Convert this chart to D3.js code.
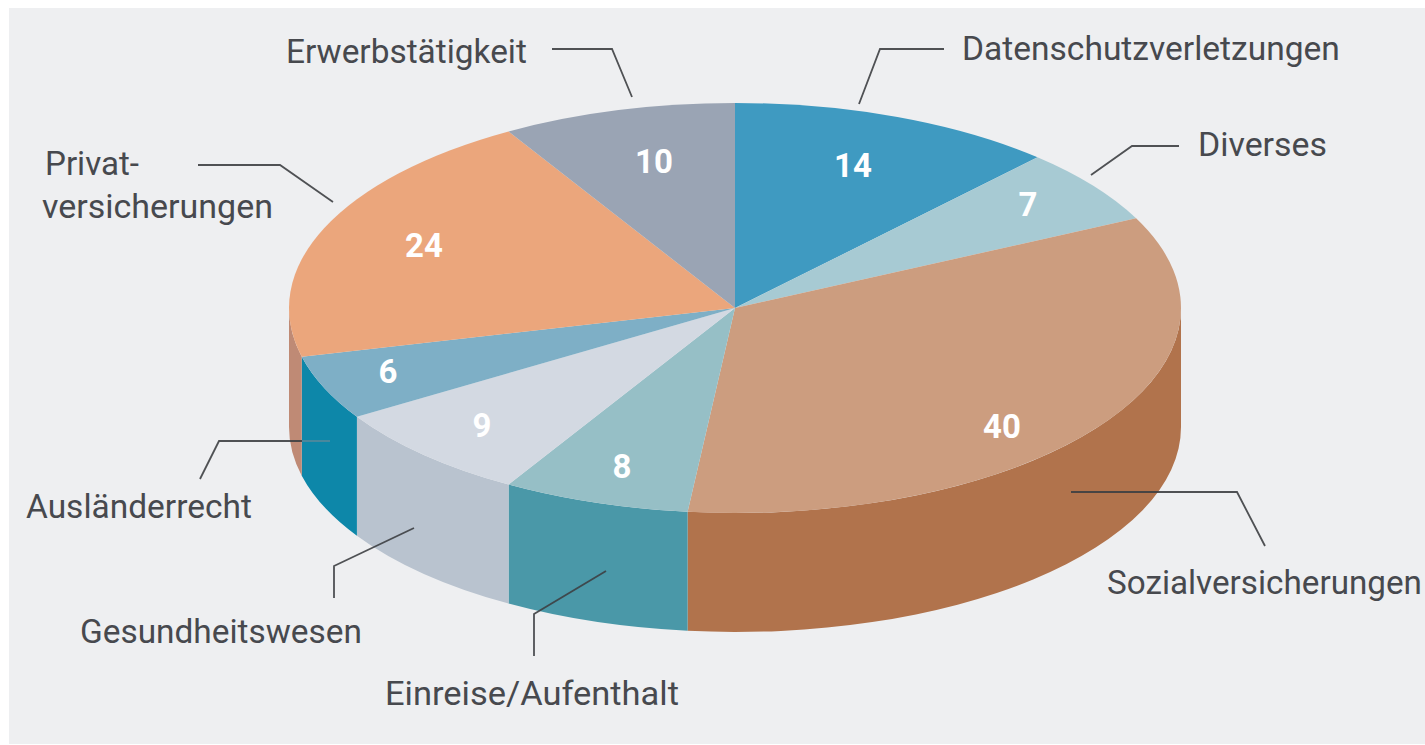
<!DOCTYPE html>
<html>
<head>
<meta charset="utf-8">
<script src="https://cdnjs.cloudflare.com/ajax/libs/d3/7.8.5/d3.min.js"></script>
<style>
  html, body { margin: 0; padding: 0; background: #fff; }
  svg { display: block; }
</style>
</head>
<body>
<div id="chart"></div>
<script>
// chart values, clockwise from 12 o'clock
var categories = ["Datenschutzverletzungen", "Diverses", "Sozialversicherungen", "Einreise/Aufenthalt",
                  "Gesundheitswesen", "Ausländerrecht", "Privatversicherungen", "Erwerbstätigkeit"];
var values = [14, 7, 40, 8, 9, 6, 24, 10];

var topColors  = ["#3f9ac1", "#a7cad3", "#cc9d7f", "#96bfc6", "#d3d9e2", "#7eafc6", "#eba67c", "#9aa4b4"];
var wallColors = ["#2f7f9f", "#8aaeb8", "#b1734c", "#4a98a8", "#b9c3cf", "#0d87a9", "#bf8a75", "#7f8999"];

// where the number sits on each slice
var valuePos = [[853, 165], [1028, 204], [1002, 426], [622, 466], [482, 425], [388, 371], [424, 245], [654, 161]];

// category text: lines with left edge, right edge, baseline
var labelLayout = [
  [{t: "Datenschutzverletzungen", x0: 962, x1: 1340, y: 60}],
  [{t: "Diverses", x0: 1198, x1: 1327, y: 156}],
  [{t: "Sozialversicherungen", x0: 1107, x1: 1422, y: 594}],
  [{t: "Einreise/Aufenthalt", x0: 385, x1: 679, y: 705}],
  [{t: "Gesundheitswesen", x0: 80, x1: 362, y: 643}],
  [{t: "Ausländerrecht", x0: 26, x1: 252, y: 518}],
  [{t: "Privat-", x0: 45, x1: 139, y: 175}, {t: "versicherungen", x0: 42, x1: 273, y: 218}],
  [{t: "Erwerbstätigkeit", x0: 286, x1: 527, y: 63}]
];

// leader lines
var leaders = [
  [[944, 49], [880, 49], [859, 104]],
  [[1179, 146], [1132, 146], [1091, 175]],
  [[1071, 492], [1237, 492], [1265, 546]],
  [[534, 656], [534, 614], [606, 571]],
  [[334, 598], [334, 566], [414, 528]],
  [[200, 479], [219, 441], [302, 441]],
  [[198, 165], [280, 165], [333, 202]],
  [[552, 49], [612, 49], [632, 97]]
];
// the end of the Ausländerrecht line nearly disappears on the dark wall
var faintLeaders = [
  [[302, 441], [330, 441]]
];

var width = 1425, height = 745;
var cx = 735, cy = 308, rx = 446, ry = 205, depth = 119;

var svg = d3.select("#chart")
  .append("svg")
    .attr("width", width)
    .attr("height", height);

// grey panel
svg.append("rect")
  .attr("x", 9)
  .attr("y", 8)
  .attr("width", width - 9)
  .attr("height", height - 9)
  .attr("fill", "#eeeff1");

var pie = d3.pie().sort(null).startAngle(0).endAngle(2 * Math.PI);
var slices = pie(values);

// point on the top ellipse, angle measured clockwise from 12 o'clock
function rim(a) {
  return [cx + rx * Math.sin(a), cy - ry * Math.cos(a)];
}

// side wall of a slice, only the part on the front half
function wallPath(d) {
  var a0 = Math.max(d.startAngle, Math.PI / 2),
      a1 = Math.min(d.endAngle, 3 * Math.PI / 2);
  if (a1 <= a0) return null;
  var p0 = rim(a0), p1 = rim(a1);
  return "M" + p0[0] + "," + p0[1] +
    "A" + rx + "," + ry + " 0 0 1 " + p1[0] + "," + p1[1] +
    "L" + p1[0] + "," + (p1[1] + depth) +
    "A" + rx + "," + ry + " 0 0 0 " + p0[0] + "," + (p0[1] + depth) + "Z";
}

svg.append("g").selectAll("path")
  .data(slices.filter(wallPath))
  .enter()
  .append("path")
    .attr("d", wallPath)
    .attr("fill", function(d) { return wallColors[d.index]; });

// top face: a circle arc squashed into an ellipse
var arc = d3.arc().innerRadius(0).outerRadius(rx);
svg.append("g")
  .attr("transform", "translate(" + cx + "," + cy + ") scale(1," + (ry / rx) + ")")
  .selectAll("path")
  .data(slices)
  .enter()
  .append("path")
    .attr("d", arc)
    .attr("fill", function(d) { return topColors[d.index]; });

// leader lines
var line = d3.line();
svg.append("g").selectAll("path")
  .data(leaders)
  .enter()
  .append("path")
    .attr("d", line)
    .attr("fill", "none")
    .attr("stroke", "#3d3f43")
    .attr("stroke-opacity", 0.9)
    .attr("stroke-width", 1.8);

svg.append("g").selectAll("path")
  .data(faintLeaders)
  .enter()
  .append("path")
    .attr("d", line)
    .attr("fill", "none")
    .attr("stroke", "#7d8a92")
    .attr("stroke-opacity", 0.6)
    .attr("stroke-width", 1.8);

// category labels, squeezed sideways to the width of the condensed original
svg.append("g").selectAll("text")
  .data(d3.merge(labelLayout))
  .enter()
  .append("text")
    .style("font-family", "Roboto, sans-serif")
    .style("font-size", "34px")
    .style("fill", "#47494e")
    .text(function(d) { return d.t; })
    .attr("transform", function(d) {
      var sx = (d.x1 - d.x0) / this.getComputedTextLength();
      return "translate(" + d.x0 + "," + d.y + ") scale(" + sx + ",1)";
    });

// slice numbers
svg.append("g").selectAll("text")
  .data(values)
  .enter()
  .append("text")
    .attr("x", function(d, i) { return valuePos[i][0]; })
    .attr("y", function(d, i) { return valuePos[i][1] + 12; })
    .attr("text-anchor", "middle")
    .style("font-family", "Roboto, sans-serif")
    .style("font-size", "33px")
    .style("font-weight", "700")
    .style("fill", "#fff")
    .text(function(d) { return d; });
</script>
</body>
</html>
